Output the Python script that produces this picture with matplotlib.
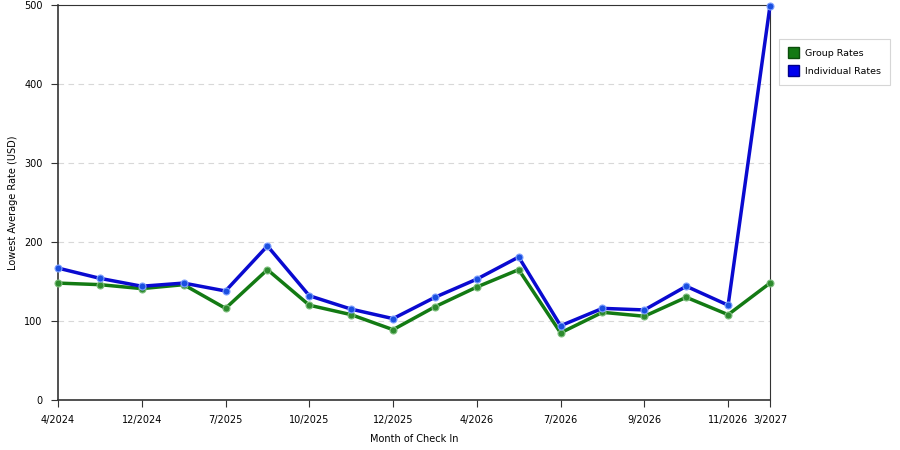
import numpy as np
import matplotlib.pyplot as plt
from matplotlib.patches import Patch

# month positions (equally spaced points) and the labels shown on the axis
tick_idx = [0, 2, 4, 6, 8, 10, 12, 14, 16, 17]
tick_labels = ['4/2024', '12/2024', '7/2025', '10/2025', '12/2025',
               '4/2026', '7/2026', '9/2026', '11/2026', '3/2027']

group_rates = [148, 146, 141, 146, 116, 165, 120, 108, 89, 118,
               143, 165, 85, 111, 106, 130, 108, 148]
individual_rates = [167, 154, 144, 148, 138, 195, 132, 115, 103, 130,
                    153, 181, 94, 116, 114, 144, 120, 499]

x = np.arange(len(group_rates))

fig = plt.figure(figsize=(9, 4.5), dpi=100)
ax = fig.add_axes([58 / 900, 50 / 450, 712 / 900, 395 / 450])

ax.plot(x, group_rates, color='#137a13', lw=2.5, marker='o', ms=5,
        mfc='#2e8b2e', mec='#7fbf7f', mew=0.8, zorder=3, clip_on=False)
ax.plot(x, individual_rates, color='#0a0ad0', lw=2.5, marker='o', ms=5,
        mfc='#1a4fe0', mec='#7fa0ff', mew=0.8, zorder=4, clip_on=False)

ax.set_xlim(0, len(x) - 1)
ax.set_ylim(0, 500)
ax.set_yticks([0, 100, 200, 300, 400, 500])
ax.set_xticks(tick_idx)
ax.set_xticklabels(tick_labels)
ax.tick_params(labelsize=7, length=5, color='#333333', pad=6)
ax.yaxis.grid(True, ls=(0, (5, 4)), color='#d8d8d8', lw=0.8)
ax.set_axisbelow(True)

for s in ['left', 'bottom']:
    ax.spines[s].set_color('#333333')
    ax.spines[s].set_linewidth(1.2)
for s in ['top', 'right']:
    ax.spines[s].set_color('#333333')
    ax.spines[s].set_linewidth(0.8)

ax.set_xlabel('Month of Check In', fontsize=7, labelpad=6)
ax.set_ylabel('Lowest Average Rate (USD)', fontsize=7)
ax.yaxis.set_label_coords(-40 / 712, 0.5)

handles = [Patch(facecolor='#137a13', edgecolor='#0b4d0b', label='Group Rates'),
           Patch(facecolor='#0000ee', edgecolor='#00008a', label='Individual Rates')]
leg = fig.legend(handles=handles, loc='upper left', bbox_to_anchor=(779 / 900, 1 - 39 / 450),
                 fontsize=6.8, frameon=True, fancybox=False, handlelength=1.2,
                 handleheight=1.4, borderpad=0.9, labelspacing=0.75,
                 handletextpad=0.7, borderaxespad=0)
leg.get_frame().set_edgecolor('#cccccc')
leg.get_frame().set_linewidth(0.8)

fig.savefig('out.png', dpi=100)
